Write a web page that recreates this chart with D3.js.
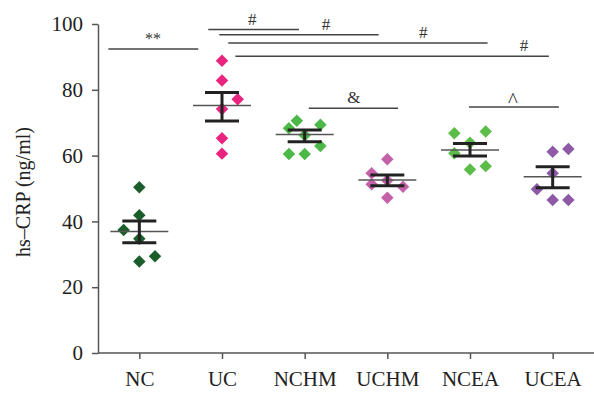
<!DOCTYPE html>
<html><head><meta charset="utf-8">
<script src="https://cdn.jsdelivr.net/npm/d3@7"></script>
<style>body{margin:0;background:#fff}svg{display:block}</style>
</head><body>
<svg id="c" width="594" height="393"></svg>
<script>
const categories = ["NC","UC","NCHM","UCHM","NCEA","UCEA"];
const colors = ["#1b5e2b","#e9247f","#4cb848","#c461a9","#5bbd47","#8e5aa7"];
// individual values and their horizontal jitter (in point offsets, -1,0,1)
const valsNC   = [50.4,41.9,37.4,34.7,29.4,27.8];
const jitNC    = [0,0,-1,0,1,0];
const valsUC   = [88.8,82.8,77.1,74.2,65.3,60.6];
const jitUC    = [0,0,1,0,0,0];
const valsNCHM = [70.6,68.3,69.4,66.2,62.9,60.5,60.5];
const jitNCHM  = [-0.5,-1,1,0,1,-1,0];
const valsUCHM = [58.9,54.6,51.3,52.4,50.5,47.2];
const jitUCHM  = [0,-1,-1,0,1,0];
const valsNCEA = [66.8,67.3,63.9,60.7,55.8,56.8];
const jitNCEA  = [-1,1,0,-1,0,1];
const valsUCEA = [61.2,62.0,54.6,49.8,46.5,46.5];
const jitUCEA  = [0,1,0,-1,0,1];
const means = [36.9,75.2,66.4,52.6,61.7,53.6];
const semHi = [40.1,79.2,67.8,54.1,63.7,56.6];
const semLo = [33.5,70.5,64.2,50.8,59.9,50.2];
const yTicks = [0,20,40,60,80,100];
// significance brackets: from/to/text position in category units, level in data units
const sigLabels = ["**","#","#","#","#","&","^"];
const sigFrom   = [-0.375,0.834,0.967,1.076,1.161,2.05,3.987];
const sigTo     = [0.713,1.931,2.895,4.213,4.954,3.13,5.075];
const sigTextAt = [0.166,1.366,2.258,3.434,4.652,2.596,4.519];
const sigLevel  = [92.4,98.3,96.7,94.2,90.2,74.4,74.8];

const allVals = [valsNC,valsUC,valsNCHM,valsUCHM,valsNCEA,valsUCEA];
const allJit = [jitNC,jitUC,jitNCHM,jitUCHM,jitNCEA,jitUCEA];

const svg = d3.select("#c");
const x = d3.scalePoint().domain(categories).range([98,594]).padding(0.5);
const step = x.step();
const xu = u => x(categories[0]) + u*step;
const y = d3.scaleLinear().domain([0,100]).range([353,24]);
const font = "'Liberation Serif','Times New Roman',serif";

// axes
const ya = svg.append("g").attr("transform","translate(98,0)")
  .call(d3.axisLeft(y).tickValues(yTicks).tickSize(6).tickPadding(9).tickSizeOuter(0));
const xa = svg.append("g").attr("transform","translate(0,353)")
  .call(d3.axisBottom(x).tickSize(6).tickPadding(12).tickSizeOuter(0));
[ya,xa].forEach(a=>{
  a.selectAll("path,line").attr("stroke","#555").attr("stroke-width",1.5);
  a.selectAll("text").attr("font-family",font).attr("font-size",21).attr("fill","#222");
});
xa.select("path").attr("d","M98,0H594");

svg.append("text").attr("transform","translate(30,192) rotate(-90)")
  .attr("text-anchor","middle").attr("font-family",font).attr("font-size",20).attr("fill","#222")
  .text("hs–CRP (ng/ml)");

// points
const diamond = d3.symbol().type(d3.symbolSquare).size(78);
categories.forEach((c,i)=>{
  const g = svg.append("g");
  g.selectAll("path").data(allVals[i]).join("path")
    .attr("d",diamond)
    .attr("transform",(d,j)=>`translate(${x(c)+allJit[i][j]*15.7},${y(d)}) rotate(45)`)
    .attr("fill",colors[i]);
  const cx = x(c);
  g.append("line").attr("x1",cx-29).attr("x2",cx+29).attr("y1",y(means[i])).attr("y2",y(means[i]))
    .attr("stroke","#555").attr("stroke-width",1.5);
  g.append("line").attr("x1",cx).attr("x2",cx).attr("y1",y(semHi[i])).attr("y2",y(semLo[i]))
    .attr("stroke","#222").attr("stroke-width",3);
  [semHi[i],semLo[i]].forEach(v=>g.append("line").attr("x1",cx-17).attr("x2",cx+17)
    .attr("y1",y(v)).attr("y2",y(v)).attr("stroke","#222").attr("stroke-width",3));
});

// significance
sigLabels.forEach((s,k)=>{
  const yy = y(sigLevel[k]);
  svg.append("line").attr("x1",xu(sigFrom[k])).attr("x2",xu(sigTo[k])).attr("y1",yy).attr("y2",yy)
    .attr("stroke","#444").attr("stroke-width",1.5);
  svg.append("text").attr("x",xu(sigTextAt[k])).attr("y",yy-(s==="^"?0:5)).attr("text-anchor","middle")
    .attr("font-family",font).attr("font-size",s==="**"?16:(s==="^"?21:17)).attr("fill","#333").text(s);
});
</script>
</body></html>
